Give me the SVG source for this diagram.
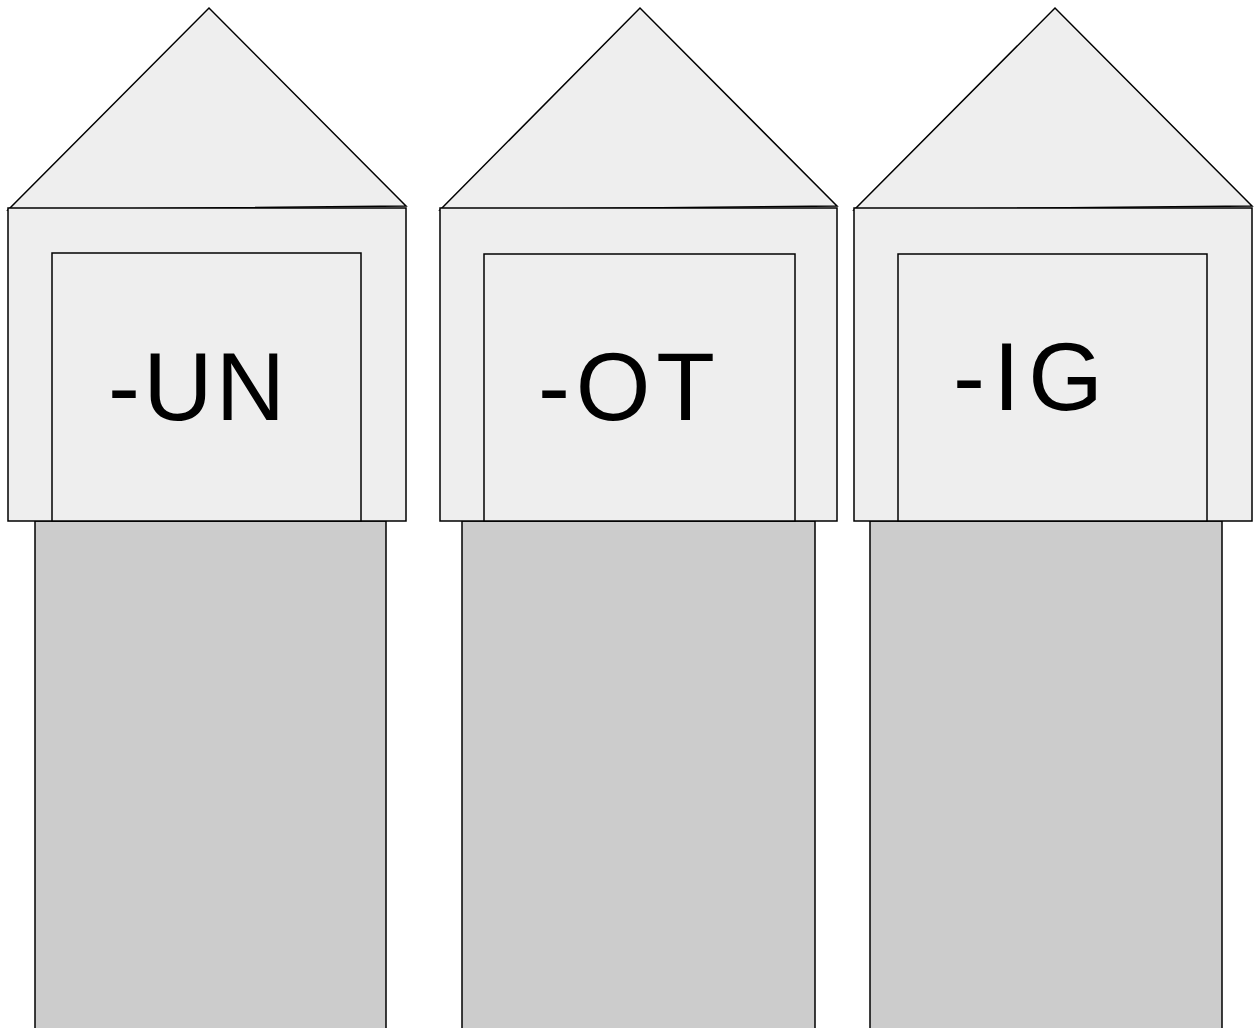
<svg xmlns="http://www.w3.org/2000/svg" width="1255" height="1028" viewBox="0 0 1255 1028">
<style>
.roof{fill:#eeeeee;stroke:#000;stroke-width:1.5;stroke-linejoin:miter}
.wall{fill:#eeeeee;stroke:#000;stroke-width:1.5}
.door{fill:#eeeeee;stroke:#000;stroke-width:1.5}
.pillar{fill:#cccccc;stroke:#000;stroke-width:1.5}
.lbl{font-family:"Liberation Sans","Open Sans",sans-serif;font-size:96px;fill:#000}
</style>
<rect width="1255" height="1028" fill="#ffffff"/>
<g id="house-un">
<rect class="pillar" x="35" y="521" width="351" height="520"/>
<polygon class="roof" points="8,210 209,8 406,206"/>
<rect class="wall" x="8" y="208" width="398" height="313"/>
<rect class="door" x="52" y="253" width="309" height="268"/>
<text class="lbl" x="108" y="420" textLength="177" lengthAdjust="spacing">-UN</text>
</g>
<g id="house-ot">
<rect class="pillar" x="462" y="521" width="353" height="520"/>
<polygon class="roof" points="440,210 640,8 837,206"/>
<rect class="wall" x="440" y="208" width="397" height="313"/>
<rect class="door" x="484" y="254" width="311" height="267"/>
<text class="lbl" x="538" y="420" textLength="177" lengthAdjust="spacing">-OT</text>
</g>
<g id="house-ig">
<rect class="pillar" x="870" y="521" width="352" height="520"/>
<polygon class="roof" points="854,210 1055,8 1252,206"/>
<rect class="wall" x="854" y="208" width="398" height="313"/>
<rect class="door" x="898" y="254" width="309" height="267"/>
<text class="lbl" x="953" y="410" textLength="150" lengthAdjust="spacing">-IG</text>
</g>
<g id="connectors"/>
</svg>
